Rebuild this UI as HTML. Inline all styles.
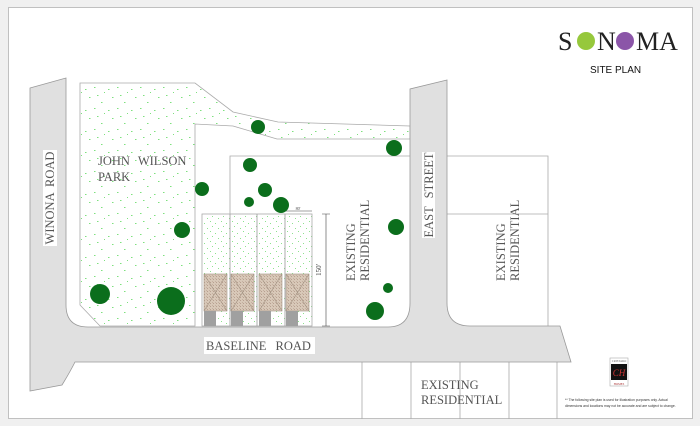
<!DOCTYPE html>
<html><head><meta charset="utf-8"><style>
html,body{margin:0;padding:0;background:#fff;}
svg{display:block}
</style></head><body>
<svg width="700" height="426" viewBox="0 0 700 426" xmlns="http://www.w3.org/2000/svg">
<defs>
<pattern id="dots" width="23" height="21" patternUnits="userSpaceOnUse">
<rect width="23" height="21" fill="#fff"/>
<g fill="#7ee07e">
<rect x="2" y="3" width="1.5" height="1"/><rect x="16" y="5" width="1.5" height="1"/>
<rect x="5" y="11" width="1.5" height="1"/><rect x="20" y="13" width="1.5" height="1"/>
<rect x="9" y="18" width="1.5" height="1"/><rect x="12" y="8" width="1" height="1"/>
</g></pattern>
<pattern id="dots2" width="11" height="10" patternUnits="userSpaceOnUse">
<rect width="11" height="10" fill="#fff"/>
<g fill="#8ee28e"><rect x="1" y="1" width="1" height="1"/><rect x="6" y="3" width="1" height="1"/><rect x="3" y="6" width="1" height="1"/><rect x="9" y="8" width="1" height="1"/></g>
</pattern>
<pattern id="hatch" width="3" height="3" patternUnits="userSpaceOnUse">
<rect width="3" height="3" fill="#d8c8b8"/><rect width="1" height="1" fill="#b8a090"/><rect x="2" y="2" width="1" height="1" fill="#c4b0a0"/>
</pattern>
</defs>
<rect width="700" height="426" fill="#f0f0f0"/>
<rect x="8.5" y="7.5" width="684" height="411" fill="#fff" stroke="#c0c0c0"/>

<path d="M80 83 L195 83 L233 112 L278 122 L410 126 L410 139 L277 139 L233 126 L195 124 L195 326 L100 326 L80 305 Z" fill="url(#dots)" stroke="#aaa" stroke-width="0.8"/>

<g fill="none" stroke="#aaa" stroke-width="0.8">
<path d="M230 214 L230 156 L548 156 L548 326"/>
<path d="M447 214 L548 214"/>
<path d="M362 362 V419 M411 362 V419 M460 362 V419 M509 362 V419 M557 362 V419"/>
</g>
<rect x="202" y="214" width="110" height="112" fill="url(#dots2)" stroke="#aaa" stroke-width="0.8"/>
<g stroke="#999" stroke-width="0.8"><path d="M230 214 V326 M257 214 V326 M285 214 V326"/></g>

<g stroke="#a09080" stroke-width="0.6">
<rect x="204" y="274" width="23" height="37" fill="url(#hatch)"/>
<rect x="231" y="274" width="23" height="37" fill="url(#hatch)"/>
<rect x="259" y="274" width="23" height="37" fill="url(#hatch)"/>
<rect x="286" y="274" width="23" height="37" fill="url(#hatch)"/>
<path d="M204 274 L227 311 M227 274 L204 311 M231 274 L254 311 M254 274 L231 311 M259 274 L282 311 M282 274 L259 311 M286 274 L309 311 M309 274 L286 311" fill="none"/>
</g>
<g fill="#a0a0a0"><rect x="204" y="311" width="12" height="15"/><rect x="231" y="311" width="12" height="15"/><rect x="259" y="311" width="12" height="15"/><rect x="286" y="311" width="12" height="15"/></g>

<g stroke="#444" stroke-width="0.6" fill="none">
<path d="M285 211 H312"/><path d="M326 214 V326"/><path d="M322 214 H330 M322 326 H330"/>
</g>
<text x="298" y="210" font-family="Liberation Serif,serif" font-size="4" fill="#444" text-anchor="middle">80'</text>
<text transform="translate(321,270) rotate(-90)" font-family="Liberation Serif,serif" font-size="7" fill="#444" text-anchor="middle">150'</text>

<path d="M30 88 L66 78 L66 305 Q66 327 88 327 L388 327 Q410 327 410 303 L410 89 L447 80 L447 303 Q447 326 470 326 L560 326 L571 362 L75 362 Q70 372 62 385 L30 391 Z" fill="#e0e0e0" stroke="#999" stroke-width="0.8"/>

<g fill="#0b6e1c">
<circle cx="258" cy="127" r="7"/><circle cx="394" cy="148" r="8"/><circle cx="250" cy="165" r="7"/>
<circle cx="202" cy="189" r="7"/><circle cx="265" cy="190" r="7"/><circle cx="249" cy="202" r="5"/>
<circle cx="281" cy="205" r="8"/><circle cx="182" cy="230" r="8"/><circle cx="396" cy="227" r="8"/>
<circle cx="100" cy="294" r="10"/><circle cx="171" cy="301" r="14"/><circle cx="388" cy="288" r="5"/>
<circle cx="375" cy="311" r="9"/>
</g>

<g font-family="Liberation Serif,serif" fill="#555" font-size="12.5">
<rect x="43" y="150" width="14" height="96" fill="#fff"/>
<text transform="translate(54,198) rotate(-90)" text-anchor="middle" word-spacing="3">WINONA ROAD</text>
<text x="98" y="165" word-spacing="5">JOHN WILSON</text>
<text x="98" y="181">PARK</text>
<rect x="422" y="152" width="13" height="86" fill="#fff"/>
<text transform="translate(433,195) rotate(-90)" text-anchor="middle" word-spacing="5">EAST STREET</text>
<text transform="translate(355,281) rotate(-90)">EXISTING</text>
<text transform="translate(369,281) rotate(-90)">RESIDENTIAL</text>
<text transform="translate(505,281) rotate(-90)">EXISTING</text>
<text transform="translate(519,281) rotate(-90)">RESIDENTIAL</text>
<rect x="204" y="337" width="111" height="17" fill="#fff"/>
<text x="206" y="350" word-spacing="6">BASELINE ROAD</text>
<text x="421" y="389">EXISTING</text>
<text x="421" y="404">RESIDENTIAL</text>
</g>

<g font-family="Liberation Serif,serif" font-size="26" fill="#222">
<text x="558" y="50">S</text>
<circle cx="586" cy="41" r="9" fill="#96c83c"/>
<text x="597" y="50">N</text>
<circle cx="625" cy="41" r="9" fill="#8b55a8"/>
<text x="636" y="50">MA</text>
</g>
<text x="590" y="73" font-family="Liberation Sans,sans-serif" font-size="10" fill="#111">SITE PLAN</text>

<rect x="610" y="358" width="18" height="28" fill="#fff" stroke="#aaa" stroke-width="0.6"/>
<rect x="611" y="364" width="16" height="16" fill="#111"/>
<text x="619" y="376" font-family="Liberation Serif,serif" font-size="9" fill="#c33" text-anchor="middle" font-style="italic">CH</text>
<text x="619" y="362" font-family="Liberation Serif,serif" font-size="3" fill="#666" text-anchor="middle">CRISTARO</text>
<text x="619" y="385" font-family="Liberation Serif,serif" font-size="3" fill="#a33" text-anchor="middle">HOMES</text>
<g font-family="Liberation Sans,sans-serif" font-size="3.4" fill="#333">
<text x="565" y="401">** The following site plan is used for illustration purposes only.  Actual</text>
<text x="565" y="407">dimensions and locations may not be accurate and are subject to change.</text>
</g>
</svg>
</body></html>
